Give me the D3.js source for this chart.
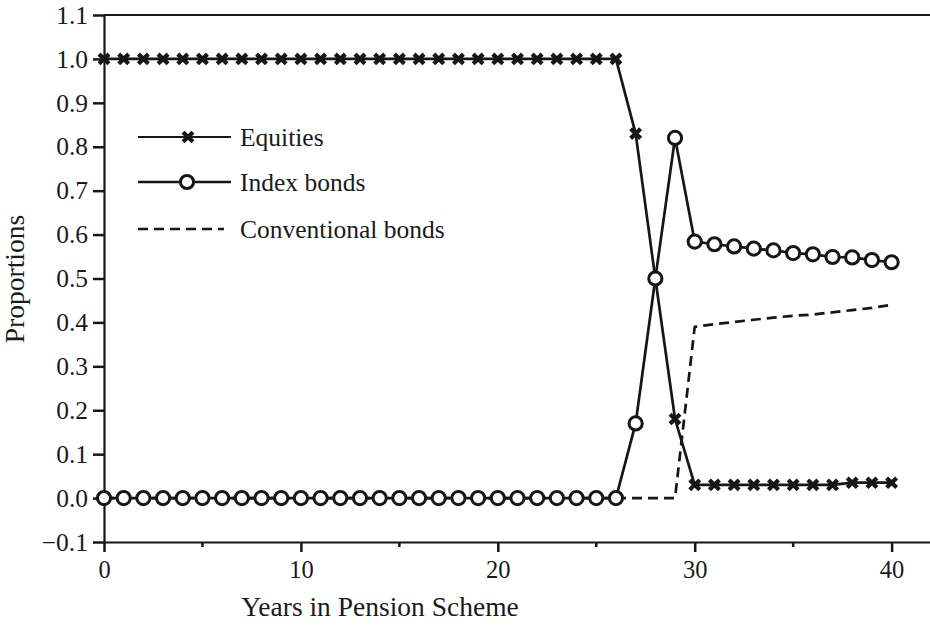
<!DOCTYPE html>
<html>
<head>
<meta charset="utf-8">
<script src="https://cdn.jsdelivr.net/npm/d3@7"></script>
<style>
  html, body { margin: 0; padding: 0; background: #fff; }
  svg { display: block; }
  text { font-family: "Liberation Serif", "Times New Roman", serif; fill: #1a1a1a; }
</style>
</head>
<body>
<svg id="chart" width="930" height="626"></svg>
<script>
// Asset allocation over the years in a pension scheme
const years = d3.range(0, 41);
const equities = [
  1, 1, 1, 1, 1, 1, 1, 1, 1, 1,
  1, 1, 1, 1, 1, 1, 1, 1, 1, 1,
  1, 1, 1, 1, 1, 1, 1, 0.83, 0.5, 0.18,
  0.03, 0.03, 0.03, 0.03, 0.03, 0.03, 0.03, 0.03, 0.035, 0.035, 0.035
];
const indexBonds = [
  0, 0, 0, 0, 0, 0, 0, 0, 0, 0,
  0, 0, 0, 0, 0, 0, 0, 0, 0, 0,
  0, 0, 0, 0, 0, 0, 0, 0.17, 0.5, 0.82,
  0.584, 0.578, 0.573, 0.568, 0.564, 0.558, 0.555, 0.549, 0.548, 0.542, 0.537
];
const convBonds = [
  0, 0, 0, 0, 0, 0, 0, 0, 0, 0,
  0, 0, 0, 0, 0, 0, 0, 0, 0, 0,
  0, 0, 0, 0, 0, 0, 0, 0, 0, 0,
  0.39, 0.396, 0.401, 0.406, 0.411, 0.415, 0.418, 0.423, 0.428, 0.433, 0.44
];
const xTicks = [0, 10, 20, 30, 40];
const xMinorTicks = [5, 15, 25, 35];
const yTicks = d3.range(-1, 12).map(d => d / 10);
const legendLabels = ["Equities", "Index bonds", "Conventional bonds"];

const ink = "#161616";
const svg = d3.select("#chart");

const x = d3.scaleLinear().domain([0, 42]).range([104, 931]);
const y = d3.scaleLinear().domain([-0.1, 1.1]).range([542, 15]);

// frame: top border
svg.append("line")
  .attr("x1", x(0)).attr("x2", 930)
  .attr("y1", y(1.1)).attr("y2", y(1.1))
  .attr("stroke", ink).attr("stroke-width", 2.2);

// y axis
const yAxis = svg.append("g")
  .attr("transform", `translate(${x(0)},0)`)
  .call(d3.axisLeft(y).tickValues(yTicks).tickSize(11).tickPadding(5)
    .tickFormat(d3.format(".1f")).tickSizeOuter(0));
yAxis.select(".domain").attr("stroke", ink).attr("stroke-width", 2.2);
yAxis.selectAll(".tick line").attr("stroke", ink).attr("stroke-width", 2.5);
yAxis.selectAll(".tick text")
  .style("font-family", "'Liberation Serif', serif")
  .style("font-size", "25.5px").attr("fill", ink);

// x axis
const xAxis = svg.append("g")
  .attr("transform", `translate(0,${y(-0.1)})`)
  .call(d3.axisBottom(x).tickValues(xTicks).tickSize(10).tickPadding(9)
    .tickFormat(d3.format("d")).tickSizeOuter(0));
xAxis.select(".domain").attr("stroke", ink).attr("stroke-width", 2.2);
xAxis.selectAll(".tick line").attr("stroke", ink).attr("stroke-width", 2.5);
xAxis.selectAll(".tick text")
  .style("font-family", "'Liberation Serif', serif")
  .style("font-size", "24.5px").attr("fill", ink);
xAxis.selectAll(".minor")
  .data(xMinorTicks).enter().append("line")
  .attr("class", "minor")
  .attr("x1", d => x(d)).attr("x2", d => x(d))
  .attr("y1", 0).attr("y2", 5)
  .attr("stroke", ink).attr("stroke-width", 2.5);

// axis titles
svg.append("text")
  .attr("x", 380).attr("y", 616)
  .attr("text-anchor", "middle")
  .style("font-size", "27.5px")
  .text("Years in Pension Scheme");
svg.append("text")
  .attr("transform", `translate(24,${279}) rotate(-90)`)
  .attr("text-anchor", "middle")
  .style("font-size", "27.5px")
  .text("Proportions");

// series
const line = d3.line().x((d, i) => x(years[i])).y(d => y(d));
const plot = svg.append("g");

plot.append("path").datum(convBonds)
  .attr("d", line).attr("fill", "none")
  .attr("stroke", ink).attr("stroke-width", 2.7)
  .attr("stroke-dasharray", "10,6").attr("stroke-linejoin", "round");

plot.append("path").datum(equities)
  .attr("d", line).attr("fill", "none")
  .attr("stroke", ink).attr("stroke-width", 2.7);

plot.append("path").datum(indexBonds)
  .attr("d", line).attr("fill", "none")
  .attr("stroke", ink).attr("stroke-width", 2.7);

// bold cross marker for equities
const crossPath = "M-5,-4.8L5,4.8M-5,4.8L5,-4.8";
plot.selectAll(".eq").data(equities).enter().append("path")
  .attr("class", "eq")
  .attr("transform", (d, i) => `translate(${x(years[i])},${y(d)})`)
  .attr("d", crossPath)
  .attr("stroke", ink).attr("stroke-width", 4.2).attr("fill", "none");

plot.selectAll(".ib").data(indexBonds).enter().append("circle")
  .attr("class", "ib")
  .attr("cx", (d, i) => x(years[i])).attr("cy", d => y(d))
  .attr("r", 6.6)
  .attr("fill", "#fff").attr("stroke", ink).attr("stroke-width", 3);

// legend
const legend = svg.append("g");
const legY = [137, 182, 229];
legendLabels.forEach((label, i) => {
  const g = legend.append("g").attr("transform", `translate(0,${legY[i]})`);
  const ln = g.append("line")
    .attr("x1", 138).attr("x2", i === 2 ? 224 : 231)
    .attr("y1", 0).attr("y2", 0)
    .attr("stroke", ink).attr("stroke-width", i === 0 ? 2 : 2.7);
  if (i === 2) ln.attr("stroke-dasharray", "10,6");
  if (i === 0) {
    g.append("path").attr("transform", "translate(188,0)")
      .attr("d", crossPath).attr("stroke", ink)
      .attr("stroke-width", 4.2).attr("fill", "none");
  }
  if (i === 1) {
    g.append("circle").attr("cx", 187).attr("cy", 0).attr("r", 6.6)
      .attr("fill", "#fff").attr("stroke", ink).attr("stroke-width", 3);
  }
  g.append("text")
    .attr("x", 240).attr("y", 8.5)
    .style("font-size", "25.5px")
    .text(label);
});
</script>
</body>
</html>
